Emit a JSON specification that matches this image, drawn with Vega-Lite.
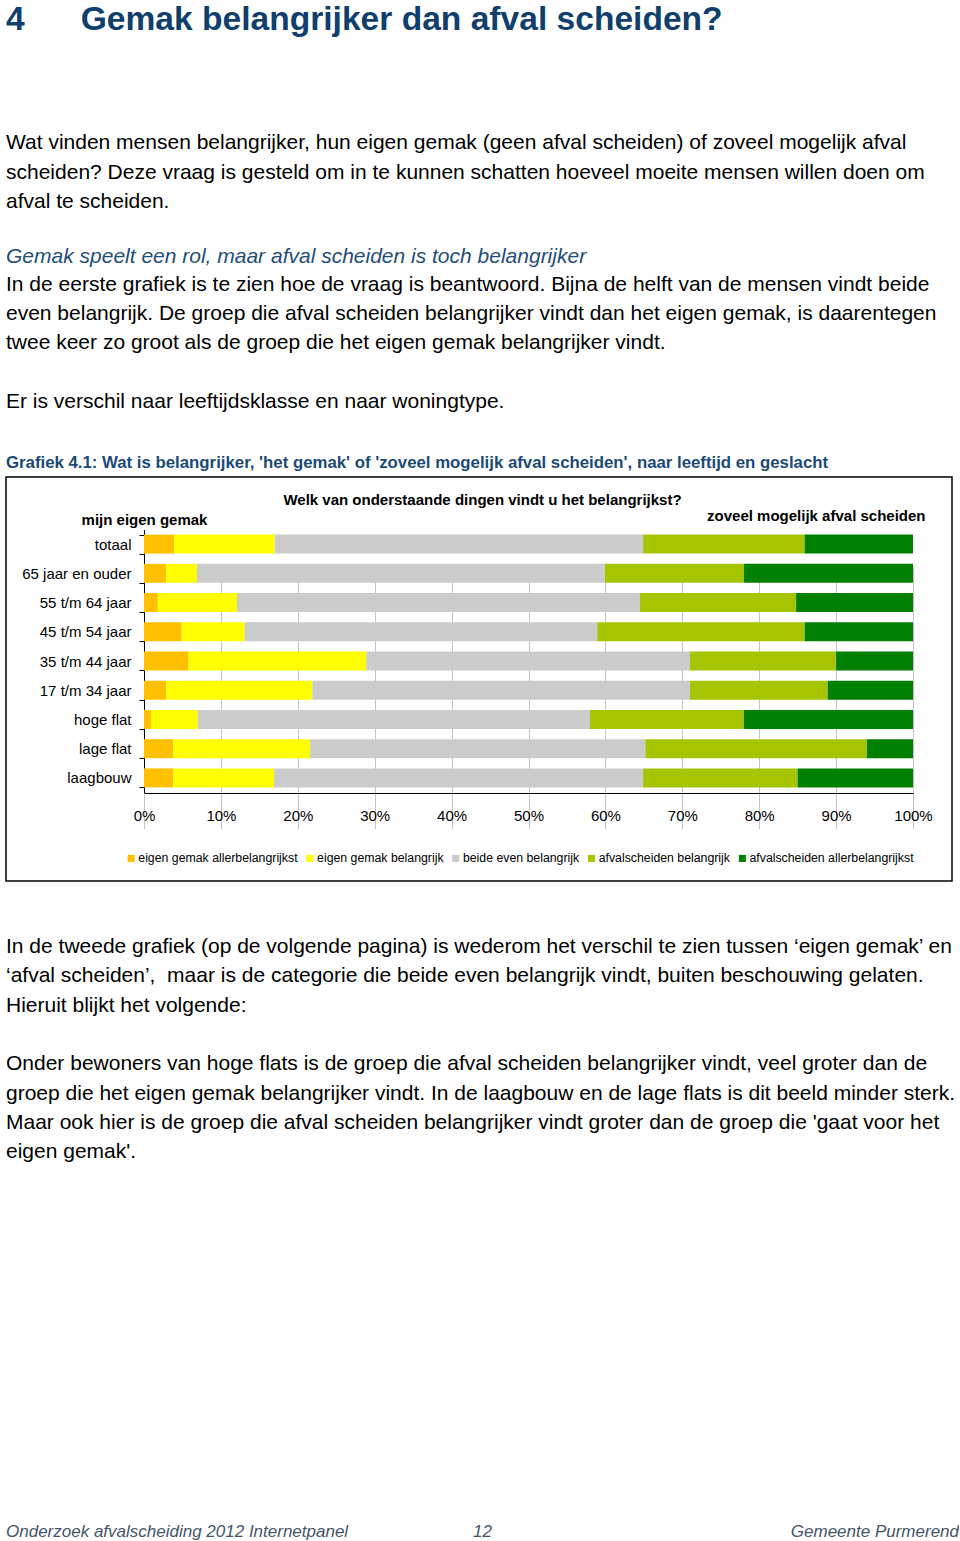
{
  "$schema": "https://vega.github.io/schema/vega-lite/v6.json",
  "padding": {"left": 5, "top": 3, "right": 0, "bottom": 0},
  "spacing": 0,
  "background": "#ffffff",
  "resolve": {"legend": {"color": "independent"}},
  "config": {
    "font": "Liberation Sans",
    "view": {"stroke": null},
    "title": {"anchor": "start", "frame": "group", "offset": 0, "baseline": "top", "font": "Liberation Sans", "subtitleFont": "Liberation Sans", "fontWeight": "normal", "color": "#000000", "subtitleColor": "#000000"}
  },
  "datasets": {
    "antwoorden": [
      {"groep": "totaal", "code": 1, "antwoord": "eigen gemak allerbelangrijkst", "percentage": 3.9},
      {"groep": "totaal", "code": 2, "antwoord": "eigen gemak belangrijk", "percentage": 13.1},
      {"groep": "totaal", "code": 3, "antwoord": "beide even belangrijk", "percentage": 47.9},
      {"groep": "totaal", "code": 4, "antwoord": "afvalscheiden belangrijk", "percentage": 21.0},
      {"groep": "totaal", "code": 5, "antwoord": "afvalscheiden allerbelangrijkst", "percentage": 14.1},
      {"groep": "65 jaar en ouder", "code": 1, "antwoord": "eigen gemak allerbelangrijkst", "percentage": 2.9},
      {"groep": "65 jaar en ouder", "code": 2, "antwoord": "eigen gemak belangrijk", "percentage": 4.0},
      {"groep": "65 jaar en ouder", "code": 3, "antwoord": "beide even belangrijk", "percentage": 53.1},
      {"groep": "65 jaar en ouder", "code": 4, "antwoord": "afvalscheiden belangrijk", "percentage": 18.1},
      {"groep": "65 jaar en ouder", "code": 5, "antwoord": "afvalscheiden allerbelangrijkst", "percentage": 22.0},
      {"groep": "55 t/m 64 jaar", "code": 1, "antwoord": "eigen gemak allerbelangrijkst", "percentage": 1.8},
      {"groep": "55 t/m 64 jaar", "code": 2, "antwoord": "eigen gemak belangrijk", "percentage": 10.3},
      {"groep": "55 t/m 64 jaar", "code": 3, "antwoord": "beide even belangrijk", "percentage": 52.4},
      {"groep": "55 t/m 64 jaar", "code": 4, "antwoord": "afvalscheiden belangrijk", "percentage": 20.3},
      {"groep": "55 t/m 64 jaar", "code": 5, "antwoord": "afvalscheiden allerbelangrijkst", "percentage": 15.2},
      {"groep": "45 t/m 54 jaar", "code": 1, "antwoord": "eigen gemak allerbelangrijkst", "percentage": 4.9},
      {"groep": "45 t/m 54 jaar", "code": 2, "antwoord": "eigen gemak belangrijk", "percentage": 8.2},
      {"groep": "45 t/m 54 jaar", "code": 3, "antwoord": "beide even belangrijk", "percentage": 45.9},
      {"groep": "45 t/m 54 jaar", "code": 4, "antwoord": "afvalscheiden belangrijk", "percentage": 27.0},
      {"groep": "45 t/m 54 jaar", "code": 5, "antwoord": "afvalscheiden allerbelangrijkst", "percentage": 14.1},
      {"groep": "35 t/m 44 jaar", "code": 1, "antwoord": "eigen gemak allerbelangrijkst", "percentage": 5.8},
      {"groep": "35 t/m 44 jaar", "code": 2, "antwoord": "eigen gemak belangrijk", "percentage": 23.1},
      {"groep": "35 t/m 44 jaar", "code": 3, "antwoord": "beide even belangrijk", "percentage": 42.1},
      {"groep": "35 t/m 44 jaar", "code": 4, "antwoord": "afvalscheiden belangrijk", "percentage": 19.0},
      {"groep": "35 t/m 44 jaar", "code": 5, "antwoord": "afvalscheiden allerbelangrijkst", "percentage": 10.0},
      {"groep": "17 t/m 34 jaar", "code": 1, "antwoord": "eigen gemak allerbelangrijkst", "percentage": 2.9},
      {"groep": "17 t/m 34 jaar", "code": 2, "antwoord": "eigen gemak belangrijk", "percentage": 19.0},
      {"groep": "17 t/m 34 jaar", "code": 3, "antwoord": "beide even belangrijk", "percentage": 49.1},
      {"groep": "17 t/m 34 jaar", "code": 4, "antwoord": "afvalscheiden belangrijk", "percentage": 17.9},
      {"groep": "17 t/m 34 jaar", "code": 5, "antwoord": "afvalscheiden allerbelangrijkst", "percentage": 11.1},
      {"groep": "hoge flat", "code": 1, "antwoord": "eigen gemak allerbelangrijkst", "percentage": 0.9},
      {"groep": "hoge flat", "code": 2, "antwoord": "eigen gemak belangrijk", "percentage": 6.1},
      {"groep": "hoge flat", "code": 3, "antwoord": "beide even belangrijk", "percentage": 51.0},
      {"groep": "hoge flat", "code": 4, "antwoord": "afvalscheiden belangrijk", "percentage": 20.0},
      {"groep": "hoge flat", "code": 5, "antwoord": "afvalscheiden allerbelangrijkst", "percentage": 22.0},
      {"groep": "lage flat", "code": 1, "antwoord": "eigen gemak allerbelangrijkst", "percentage": 3.8},
      {"groep": "lage flat", "code": 2, "antwoord": "eigen gemak belangrijk", "percentage": 17.8},
      {"groep": "lage flat", "code": 3, "antwoord": "beide even belangrijk", "percentage": 43.6},
      {"groep": "lage flat", "code": 4, "antwoord": "afvalscheiden belangrijk", "percentage": 28.8},
      {"groep": "lage flat", "code": 5, "antwoord": "afvalscheiden allerbelangrijkst", "percentage": 6.0},
      {"groep": "laagbouw", "code": 1, "antwoord": "eigen gemak allerbelangrijkst", "percentage": 3.8},
      {"groep": "laagbouw", "code": 2, "antwoord": "eigen gemak belangrijk", "percentage": 13.1},
      {"groep": "laagbouw", "code": 3, "antwoord": "beide even belangrijk", "percentage": 48.0},
      {"groep": "laagbouw", "code": 4, "antwoord": "afvalscheiden belangrijk", "percentage": 20.1},
      {"groep": "laagbouw", "code": 5, "antwoord": "afvalscheiden allerbelangrijkst", "percentage": 15.0}
    ]
  },
  "vconcat": [
    {
      "width": 950,
      "height": 29,
      "data": {"values": []},
      "mark": {"type": "text"},
      "encoding": {"text": {"value": ""}},
      "title": {
        "text": "4\u00a0\u00a0\u00a0\u00a0\u00a0\u00a0Gemak belangrijker dan afval scheiden?",
        "fontSize": 33.6,
        "fontWeight": "bold",
        "color": "#103f6e",
        "subtitle": [
          "Wat vinden mensen belangrijker, hun eigen gemak (geen afval scheiden) of zoveel mogelijk afval",
          "scheiden? Deze vraag is gesteld om in te kunnen schatten hoeveel moeite mensen willen doen om",
          "afval te scheiden."
        ],
        "subtitleFontSize": 21,
        "subtitleLineHeight": 29.3,
        "subtitlePadding": 95.5
      }
    },
    {
      "width": 950,
      "height": 37.6,
      "data": {"values": []},
      "mark": {"type": "text"},
      "encoding": {"text": {"value": ""}},
      "title": {
        "text": "Gemak speelt een rol, maar afval scheiden is toch belangrijker",
        "fontSize": 21,
        "fontStyle": "italic",
        "color": "#1f4e79",
        "subtitle": [
          "In de eerste grafiek is te zien hoe de vraag is beantwoord. Bijna de helft van de mensen vindt beide",
          "even belangrijk. De groep die afval scheiden belangrijker vindt dan het eigen gemak, is daarentegen",
          "twee keer zo groot als de groep die het eigen gemak belangrijker vindt.",
          "\u200b",
          "Er is verschil naar leeftijdsklasse en naar woningtype."
        ],
        "subtitleFontSize": 21,
        "subtitleLineHeight": 29.3,
        "subtitlePadding": 7
      }
    },
    {
      "width": 946,
      "height": 404,
      "view": {"stroke": "#000000", "strokeWidth": 1.5},
      "title": {
        "text": "Grafiek 4.1: Wat is belangrijker, 'het gemak' of 'zoveel mogelijk afval scheiden', naar leeftijd en geslacht",
        "fontSize": 16.8,
        "fontWeight": "bold",
        "color": "#1b4a78",
        "offset": -2.2
      },
      "data": {"name": "antwoorden"},
      "layer": [
        {
          "mark": {"type": "bar"},
          "encoding": {
            "y": {
              "field": "groep",
              "type": "nominal",
              "sort": ["totaal", "65 jaar en ouder", "55 t/m 64 jaar", "45 t/m 54 jaar", "35 t/m 44 jaar", "17 t/m 34 jaar", "hoge flat", "lage flat", "laagbouw"],
              "scale": {"range": [52.5, 315.5], "paddingInner": 0.35, "paddingOuter": 0.175},
              "axis": {"orient": "left", "offset": -138, "title": null, "domain": true, "domainColor": "#000000", "domainWidth": 1, "ticks": true, "tickColor": "#000000", "tickSize": 5, "tickWidth": 1, "tickBand": "extent", "labels": true, "labelFontSize": 15, "labelColor": "#000000", "labelPadding": 8, "labelLimit": 250, "grid": false}
            },
            "x": {
              "field": "percentage",
              "type": "quantitative",
              "stack": "normalize",
              "scale": {"domain": [0, 1], "range": [138, 907], "nice": false},
              "axis": {"orient": "bottom", "offset": -88, "title": null, "format": "%", "values": [0, 0.1, 0.2, 0.3, 0.4, 0.5, 0.6, 0.7, 0.8, 0.9, 1], "domain": true, "domainColor": "#000000", "ticks": false, "grid": true, "gridColor": "#c4c4c4", "gridWidth": 1, "labelFontSize": 15, "labelColor": "#000000", "labelPadding": 15, "labelFlush": false, "labelOverlap": false}
            },
            "order": {"field": "code", "type": "quantitative", "sort": "ascending"},
            "color": {
              "field": "antwoord",
              "type": "nominal",
              "scale": {
                "domain": ["eigen gemak allerbelangrijkst", "eigen gemak belangrijk", "beide even belangrijk", "afvalscheiden belangrijk", "afvalscheiden allerbelangrijkst"],
                "range": ["#FFC000", "#FFFF00", "#CBCBCB", "#A6C400", "#008000"]
              },
              "legend": {"orient": "none", "legendX": 119, "legendY": 375, "direction": "horizontal", "columns": 5, "title": null, "symbolType": "square", "symbolSize": 50, "symbolStrokeWidth": 0, "labelFontSize": 12.3, "labelColor": "#000000", "columnPadding": 5.8, "labelOffset": 1, "labelLimit": 400}
            }
          }
        },
        {
          "mark": {"type": "bar", "opacity": 0},
          "encoding": {
            "x": {
              "field": "percentage",
              "type": "quantitative",
              "stack": "normalize",
              "axis": {
                "orient": "top", "offset": -52, "values": [0, 1], "domain": false, "ticks": false, "grid": false,
                "title": "Welk van onderstaande dingen vindt u het belangrijkst?",
                "titleFontSize": 15, "titleFontWeight": "bold", "titleColor": "#000000", "titleX": 476, "titlePadding": 1.5,
                "labelExpr": "datum.value == 0 ? 'mijn eigen gemak' : 'zoveel mogelijk afval scheiden'",
                "labelFontSize": 15, "labelFontWeight": "bold", "labelColor": "#000000", "labelFlush": false, "labelOverlap": false, "labelLimit": 400,
                "labelAlign": {"condition": {"test": "datum.value == 1", "value": "right"}, "value": "center"},
                "labelOffset": {"condition": {"test": "datum.value == 1", "value": 12}, "value": 0},
                "labelPadding": {"condition": {"test": "datum.value == 1", "value": 5.5}, "value": 1.5}
              }
            }
          }
        }
      ]
    },
    {
      "width": 950,
      "height": 50,
      "data": {"values": []},
      "mark": {"type": "text"},
      "encoding": {"text": {"value": ""}},
      "title": {
        "text": [
          "In de tweede grafiek (op de volgende pagina) is wederom het verschil te zien tussen \u2018eigen gemak\u2019 en",
          "\u2018afval scheiden\u2019,\u00a0 maar is de categorie die beide even belangrijk vindt, buiten beschouwing gelaten.",
          "Hieruit blijkt het volgende:",
          "\u200b",
          "Onder bewoners van hoge flats is de groep die afval scheiden belangrijker vindt, veel groter dan de",
          "groep die het eigen gemak belangrijker vindt. In de laagbouw en de lage flats is dit beeld minder sterk.",
          "Maar ook hier is de groep die afval scheiden belangrijker vindt groter dan de groep die 'gaat voor het",
          "eigen gemak'."
        ],
        "orient": "bottom",
        "fontSize": 21,
        "lineHeight": 29.3
      }
    },
    {
      "spacing": 0,
      "hconcat": [
        {
          "width": 467,
          "height": 357,
          "data": {"values": []},
          "mark": {"type": "text"},
          "encoding": {"text": {"value": ""}},
          "title": {"text": "Onderzoek afvalscheiding 2012 Internetpanel", "orient": "bottom", "fontStyle": "italic", "fontSize": 17, "color": "#44546a"}
        },
        {
          "width": 100,
          "height": 357,
          "data": {"values": []},
          "mark": {"type": "text"},
          "encoding": {"text": {"value": ""}},
          "title": {"text": "12", "orient": "bottom", "fontStyle": "italic", "fontSize": 17, "color": "#44546a"}
        },
        {
          "width": 386,
          "height": 357,
          "data": {"values": []},
          "mark": {"type": "text"},
          "encoding": {"text": {"value": ""}},
          "title": {"text": "Gemeente Purmerend", "orient": "bottom", "anchor": "end", "fontStyle": "italic", "fontSize": 17, "color": "#44546a"}
        }
      ]
    }
  ]
}
